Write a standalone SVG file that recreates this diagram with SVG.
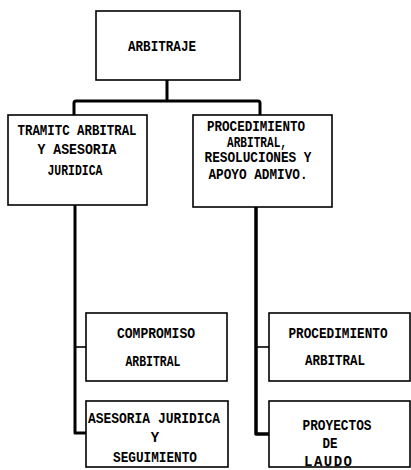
<svg xmlns="http://www.w3.org/2000/svg" width="411" height="470" viewBox="0 0 411 470">
<style>
.box{fill:#fff;stroke:#000;stroke-width:1.6}
.t{font-family:"Liberation Mono",monospace;font-weight:bold;font-size:14px;fill:#000;text-anchor:middle}
.c{fill:none;stroke:#000;stroke-linejoin:round}
</style>
<rect width="411" height="470" fill="#fff"/>
<g id="connectors">
<path class="c" stroke-width="3" d="M167 80 V101 M74 115 V103 Q74 101 76 101 H258 Q260 101 260 103 V115"/>
<path class="c" stroke-width="3" d="M75 205 V433 H86"/>
<path class="c" stroke-width="1.6" d="M75 347 H86"/>
<path class="c" stroke-width="3.5" d="M256 207 V434 H269"/>
<path class="c" stroke-width="1.6" d="M256 347 H269"/>
</g>
<g id="arbitraje">
<rect class="box" x="96" y="11" width="144" height="69"/>
<text class="t" x="162" y="51" textLength="68" lengthAdjust="spacingAndGlyphs">ARBITRAJE</text>
</g>
<g id="tramite">
<rect class="box" x="8" y="115" width="139" height="90"/>
<text class="t" x="77" y="135" textLength="119" lengthAdjust="spacingAndGlyphs">TRAMITC ARBITRAL</text>
<text class="t" x="77" y="154" textLength="79" lengthAdjust="spacingAndGlyphs">Y ASESORIA</text>
<text class="t" x="75" y="175" textLength="55" lengthAdjust="spacingAndGlyphs">JURIDICA</text>
</g>
<g id="procedimiento-arbitral-resoluciones">
<rect class="box" x="193" y="115" width="139" height="92"/>
<text class="t" x="256" y="131" textLength="98" lengthAdjust="spacingAndGlyphs">PROCEDIMIENTO</text>
<text class="t" x="257" y="147" textLength="60" lengthAdjust="spacingAndGlyphs">ARBITRAL,</text>
<text class="t" x="258" y="162" textLength="107" lengthAdjust="spacingAndGlyphs">RESOLUCIONES Y</text>
<text class="t" x="258" y="179" textLength="99" lengthAdjust="spacingAndGlyphs">APOYO ADMIVO.</text>
</g>
<g id="compromiso">
<rect class="box" x="86" y="313" width="141" height="68"/>
<text class="t" x="156" y="338" textLength="78" lengthAdjust="spacingAndGlyphs">COMPROMISO</text>
<text class="t" x="153" y="366" textLength="55" lengthAdjust="spacingAndGlyphs">ARBITRAL</text>
</g>
<g id="asesoria">
<rect class="box" x="86" y="401" width="142" height="66"/>
<text class="t" x="154" y="423" textLength="132" lengthAdjust="spacingAndGlyphs">ASESORIA JURIDICA</text>
<text class="t" x="155" y="442">Y</text>
<text class="t" x="155" y="462" textLength="84" lengthAdjust="spacingAndGlyphs">SEGUIMIENTO</text>
</g>
<g id="procedimiento-arbitral">
<rect class="box" x="269" y="313" width="141" height="68"/>
<text class="t" x="338" y="338" textLength="99" lengthAdjust="spacingAndGlyphs">PROCEDIMIENTO</text>
<text class="t" x="335" y="365" textLength="60" lengthAdjust="spacingAndGlyphs">ARBITRAL</text>
</g>
<g id="proyectos">
<rect class="box" x="269" y="401" width="141" height="66"/>
<text class="t" x="337" y="430" textLength="69" lengthAdjust="spacingAndGlyphs">PROYECTOS</text>
<text class="t" x="330" y="448" textLength="15" lengthAdjust="spacingAndGlyphs">DE</text>
<text class="t" x="328" y="466" textLength="48" lengthAdjust="spacing">LAUDO</text>
</g>
</svg>
